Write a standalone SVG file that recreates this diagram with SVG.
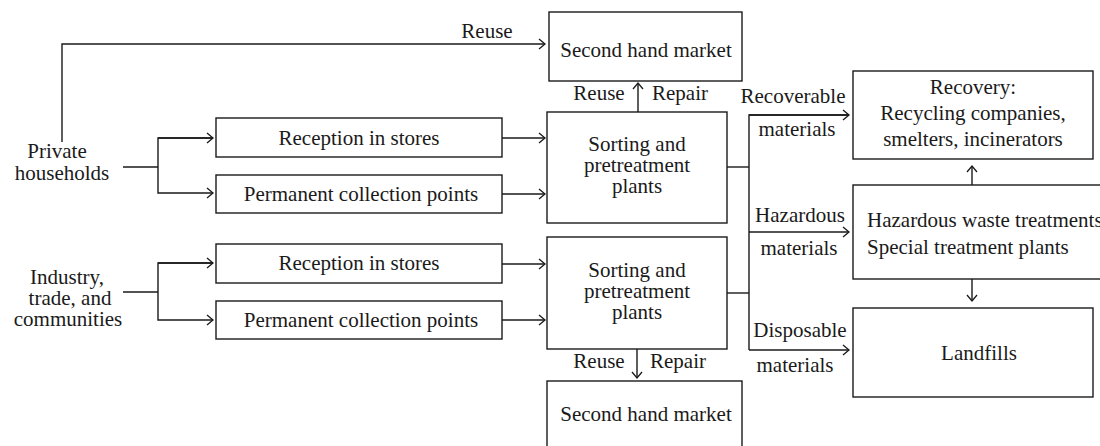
<svg xmlns="http://www.w3.org/2000/svg" width="1100" height="446" viewBox="0 0 1100 446">
  <style>
    .box { fill: #ffffff; stroke: #1a1a1a; stroke-width: 1.4; }
    .ln { fill: none; stroke: #1a1a1a; stroke-width: 1.4; }
    .arr { fill: none; stroke: #1a1a1a; stroke-width: 1.4; marker-end: url(#tip); }
    text { font-family: "Liberation Serif", "Times New Roman", serif; font-size: 21px; fill: #1a1a1a; }
    .c { text-anchor: middle; }
  </style>
  <defs>
    <marker id="tip" viewBox="-8 -6 10 12" markerWidth="10" markerHeight="12" refX="0" refY="0" orient="auto" markerUnits="userSpaceOnUse">
      <path d="M-6,-5 L0,0 L-6,5" fill="none" stroke="#1a1a1a" stroke-width="1.3"/>
    </marker>
  </defs>
  <rect width="1100" height="446" fill="#ffffff"/>

  <!-- connectors -->
  <g id="connectors">
    <!-- private households -->
    <polyline class="arr" points="62,142 62,44 545,44"/>
    <line class="ln" x1="123" y1="167" x2="158" y2="167"/>
    <polyline class="arr" points="213,138 158,138 158,193 213,193"/>
    <line class="ln" x1="158" y1="138" x2="213" y2="138" marker-end="url(#tip)"/>
    <line class="arr" x1="502" y1="138" x2="545" y2="138"/>
    <line class="arr" x1="502" y1="194" x2="545" y2="194"/>
    <!-- industry, trade, communities -->
    <line class="ln" x1="123" y1="292" x2="158" y2="292"/>
    <polyline class="arr" points="213,263 158,263 158,320 213,320"/>
    <line class="ln" x1="158" y1="263" x2="213" y2="263" marker-end="url(#tip)"/>
    <line class="arr" x1="502" y1="264" x2="545" y2="264"/>
    <line class="arr" x1="502" y1="320" x2="545" y2="320"/>
    <!-- sorting to second hand markets -->
    <line class="arr" x1="638" y1="112" x2="638" y2="83"/>
    <line class="arr" x1="637" y1="349" x2="637" y2="378"/>
    <!-- sorting outputs -->
    <line class="ln" x1="727" y1="167" x2="749" y2="167"/>
    <line class="ln" x1="727" y1="293" x2="749" y2="293"/>
    <polyline class="ln" points="849,115 749,115 749,350"/>
    <line class="arr" x1="749" y1="115" x2="849" y2="115"/>
    <line class="arr" x1="749" y1="232" x2="849" y2="232"/>
    <line class="arr" x1="749" y1="350" x2="849" y2="350"/>
    <!-- hazardous treatment links -->
    <line class="arr" x1="972" y1="185" x2="972" y2="166"/>
    <line class="arr" x1="972" y1="279" x2="972" y2="301"/>
  </g>

  <!-- connector labels -->
  <g id="labels">
    <text class="c" x="487" y="38">Reuse</text>
    <text class="c" x="599" y="100">Reuse</text>
    <text class="c" x="680" y="100">Repair</text>
    <text class="c" x="599" y="368">Reuse</text>
    <text class="c" x="678" y="368">Repair</text>
    <text class="c" x="793" y="103">Recoverable</text>
    <text class="c" x="797" y="136">materials</text>
    <text class="c" x="800" y="222">Hazardous</text>
    <text class="c" x="799" y="255">materials</text>
    <text class="c" x="800" y="337">Disposable</text>
    <text class="c" x="795" y="372">materials</text>
  </g>

  <g id="private-households">
    <text class="c" x="57" y="158">Private</text>
    <text class="c" x="62" y="180">households</text>
  </g>

  <g id="industry">
    <text class="c" x="67" y="284">Industry,</text>
    <text class="c" x="70" y="305">trade, and</text>
    <text class="c" x="68" y="326">communities</text>
  </g>

  <g id="reception-1">
    <rect class="box" x="216" y="118" width="286" height="39"/>
    <text class="c" x="359" y="145">Reception in stores</text>
  </g>

  <g id="collection-1">
    <rect class="box" x="216" y="175" width="286" height="38"/>
    <text class="c" x="361" y="201">Permanent collection points</text>
  </g>

  <g id="reception-2">
    <rect class="box" x="216" y="244" width="286" height="39"/>
    <text class="c" x="359" y="270">Reception in stores</text>
  </g>

  <g id="collection-2">
    <rect class="box" x="216" y="301" width="286" height="38"/>
    <text class="c" x="361" y="327">Permanent collection points</text>
  </g>

  <g id="second-hand-top">
    <rect class="box" x="549" y="12" width="193" height="69"/>
    <text class="c" x="646" y="57">Second hand market</text>
  </g>

  <g id="sorting-1">
    <rect class="box" x="547" y="112" width="180" height="111"/>
    <text class="c" x="637" y="151">Sorting and</text>
    <text class="c" x="637" y="172">pretreatment</text>
    <text class="c" x="637" y="193">plants</text>
  </g>

  <g id="sorting-2">
    <rect class="box" x="547" y="237" width="180" height="112"/>
    <text class="c" x="637" y="277">Sorting and</text>
    <text class="c" x="637" y="298">pretreatment</text>
    <text class="c" x="637" y="319">plants</text>
  </g>

  <g id="second-hand-bottom">
    <rect class="box" x="547" y="381" width="195" height="80"/>
    <text class="c" x="646" y="421">Second hand market</text>
  </g>

  <g id="recovery">
    <rect class="box" x="853" y="71" width="240" height="88"/>
    <text class="c" x="973" y="94">Recovery:</text>
    <text class="c" x="973" y="120">Recycling companies,</text>
    <text class="c" x="973" y="146">smelters, incinerators</text>
  </g>

  <g id="hazardous">
    <rect class="box" x="853" y="185" width="270" height="94"/>
    <text x="867" y="227">Hazardous waste treatments</text>
    <text x="867" y="254">Special treatment plants</text>
  </g>

  <g id="landfills">
    <rect class="box" x="853" y="308" width="240" height="89"/>
    <text class="c" x="979" y="360">Landfills</text>
  </g>
</svg>
